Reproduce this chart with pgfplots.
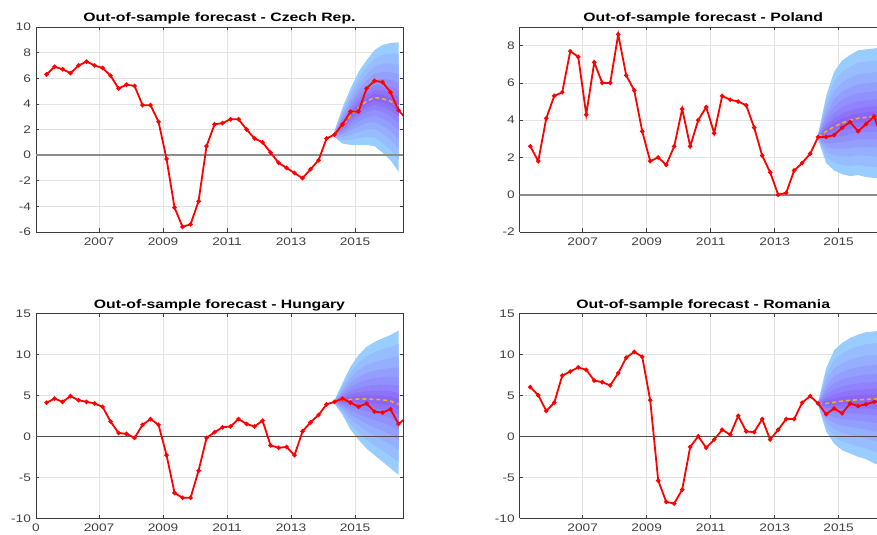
\documentclass[border=0pt]{standalone}
\usepackage{fontspec}
\setmainfont[FakeStretch=1.25]{Liberation Sans}
\newfontfamily\titlefont[FakeStretch=1.30]{Liberation Sans}
\usepackage{pgfplots}
\pgfplotsset{compat=1.18}
\usepackage{pgfplotstable}
\usepgfplotslibrary{fillbetween}

% fan chart shades, outer band (1) to inner band (8)
\definecolor{fan1}{RGB}{153,204,255}
\definecolor{fan2}{RGB}{151,189,254}
\definecolor{fan3}{RGB}{149,174,254}
\definecolor{fan4}{RGB}{147,159,253}
\definecolor{fan5}{RGB}{145,145,253}
\definecolor{fan6}{RGB}{143,130,252}
\definecolor{fan7}{RGB}{141,115,251}
\definecolor{fan8}{RGB}{139,100,250}
\definecolor{medgold}{RGB}{237,177,32}
\definecolor{axgray}{RGB}{60,60,60}
\definecolor{ticktext}{RGB}{64,64,64}

% ---------- observed series (quarterly) ----------
\pgfplotstableread{
t v
2005.36 6.3
2005.61 6.9
2005.86 6.7
2006.11 6.4
2006.36 7.0
2006.61 7.3
2006.86 7.0
2007.11 6.8
2007.36 6.2
2007.61 5.2
2007.86 5.5
2008.11 5.4
2008.36 3.9
2008.61 3.9
2008.86 2.6
2009.11 -0.3
2009.36 -4.1
2009.61 -5.6
2009.86 -5.4
2010.11 -3.6
2010.36 0.7
2010.61 2.4
2010.86 2.5
2011.11 2.8
2011.36 2.8
2011.61 2.0
2011.86 1.3
2012.11 1.0
2012.36 0.2
2012.61 -0.6
2012.86 -1.0
2013.11 -1.4
2013.36 -1.8
2013.61 -1.1
2013.86 -0.4
2014.11 1.3
2014.36 1.6
2014.61 2.4
2014.86 3.4
2015.11 3.4
2015.36 5.2
2015.61 5.8
2015.86 5.7
2016.11 4.9
2016.36 3.5
2016.61 2.8
}\czdata

\pgfplotstableread{
t v
2005.36 2.6
2005.61 1.8
2005.86 4.1
2006.11 5.3
2006.36 5.5
2006.61 7.7
2006.86 7.4
2007.11 4.3
2007.36 7.1
2007.61 6.0
2007.86 6.0
2008.11 8.6
2008.36 6.4
2008.61 5.6
2008.86 3.4
2009.11 1.8
2009.36 2.0
2009.61 1.6
2009.86 2.6
2010.11 4.6
2010.36 2.6
2010.61 4.0
2010.86 4.7
2011.11 3.3
2011.36 5.3
2011.61 5.1
2011.86 5.0
2012.11 4.8
2012.36 3.6
2012.61 2.1
2012.86 1.2
2013.11 0.0
2013.36 0.1
2013.61 1.3
2013.86 1.7
2014.11 2.2
2014.36 3.1
2014.61 3.1
2014.86 3.2
2015.11 3.6
2015.36 3.9
2015.61 3.4
2015.86 3.8
2016.11 4.2
2016.36 3.0
2016.61 3.0
}\pldata

\pgfplotstableread{
t v
2005.36 4.1
2005.61 4.6
2005.86 4.2
2006.11 4.9
2006.36 4.4
2006.61 4.2
2006.86 4.0
2007.11 3.6
2007.36 1.8
2007.61 0.4
2007.86 0.3
2008.11 -0.2
2008.36 1.4
2008.61 2.1
2008.86 1.4
2009.11 -2.3
2009.36 -6.9
2009.61 -7.5
2009.86 -7.5
2010.11 -4.2
2010.36 -0.2
2010.61 0.5
2010.86 1.1
2011.11 1.2
2011.36 2.1
2011.61 1.5
2011.86 1.2
2012.11 1.9
2012.36 -1.1
2012.61 -1.4
2012.86 -1.3
2013.11 -2.3
2013.36 0.6
2013.61 1.7
2013.86 2.6
2014.11 3.9
2014.36 4.2
2014.61 4.6
2014.86 4.1
2015.11 3.6
2015.36 4.0
2015.61 3.0
2015.86 2.9
2016.11 3.3
2016.36 1.5
2016.61 2.3
}\hudata

\pgfplotstableread{
t v
2005.36 6.0
2005.61 5.0
2005.86 3.1
2006.11 4.1
2006.36 7.4
2006.61 7.9
2006.86 8.4
2007.11 8.1
2007.36 6.8
2007.61 6.6
2007.86 6.2
2008.11 7.7
2008.36 9.6
2008.61 10.3
2008.86 9.7
2009.11 4.4
2009.36 -5.4
2009.61 -8.0
2009.86 -8.2
2010.11 -6.5
2010.36 -1.3
2010.61 0.0
2010.86 -1.4
2011.11 -0.4
2011.36 0.8
2011.61 0.2
2011.86 2.5
2012.11 0.6
2012.36 0.5
2012.61 2.1
2012.86 -0.4
2013.11 0.8
2013.36 2.1
2013.61 2.1
2013.86 4.1
2014.11 4.9
2014.36 4.0
2014.61 2.7
2014.86 3.4
2015.11 2.8
2015.36 4.0
2015.61 3.7
2015.86 3.9
2016.11 4.2
2016.36 4.4
2016.61 4.5
}\rodata

% ---------- forecast fans: band bounds u1/l1 (outer) ... u8/l8 (inner), median m ----------
\pgfplotstableread{
t       u1    l1    u2    l2    u3    l3    u4    l4    u5    l5    u6    l6    u7    l7    u8    l8    m
2014.36 1.90  1.40  1.85  1.44  1.80  1.47  1.75  1.50  1.71  1.53  1.68  1.55  1.65  1.57  1.62  1.59  1.6
2014.61 3.70  0.90  3.45  1.15  3.21  1.39  3.00  1.60  2.82  1.78  2.65  1.95  2.51  2.09  2.40  2.20  2.3
2014.86 5.20  0.80  4.82  1.21  4.47  1.61  4.15  1.95  3.88  2.25  3.63  2.53  3.42  2.76  3.25  2.94  3.1
2015.11 6.50  0.80  6.00  1.32  5.52  1.82  5.10  2.25  4.74  2.63  4.40  2.98  4.12  3.27  3.90  3.50  3.7
2015.36 7.40  0.80  6.82  1.41  6.28  1.99  5.80  2.50  5.38  2.94  5.00  3.35  4.68  3.69  4.42  3.96  4.2
2015.61 8.20  0.70  7.53  1.38  6.91  2.03  6.35  2.60  5.87  3.09  5.43  3.55  5.06  3.93  4.76  4.23  4.5
2015.86 8.60  0.20  7.84  0.96  7.13  1.67  6.50  2.30  5.95  2.85  5.45  3.35  5.03  3.77  4.69  4.11  4.4
2016.11 8.75 -0.40  7.93  0.43  7.16  1.21  6.48  1.90  5.88  2.50  5.34  3.05  4.88  3.51  4.52  3.88  4.2
2016.36 8.80 -1.30  7.90 -0.38  7.05  0.49  6.30  1.25  5.65  1.91  5.05  2.53  4.55  3.04  4.15  3.44  3.8
}\czfan

\pgfplotstableread{
t       u1    l1    u2    l2    u3    l3    u4    l4    u5    l5    u6    l6    u7    l7    u8    l8    m
2014.36 3.25  2.95  3.22  2.98  3.20  3.00  3.18  3.03  3.16  3.04  3.14  3.06  3.12  3.08  3.11  3.09  3.1
2014.61 5.30  1.70  4.96  2.01  4.64  2.30  4.35  2.55  4.10  2.77  3.88  2.98  3.69  3.15  3.53  3.28  3.4
2014.86 6.60  1.30  6.07  1.72  5.57  2.12  5.13  2.48  4.74  2.78  4.39  3.06  4.09  3.30  3.86  3.49  3.65
2015.11 7.20  1.10  6.60  1.60  6.03  2.06  5.53  2.48  5.09  2.83  4.69  3.16  4.35  3.44  4.09  3.66  3.85
2015.36 7.50  1.00  6.87  1.54  6.28  2.05  5.75  2.50  5.30  2.89  4.88  3.25  4.53  3.55  4.25  3.79  4.0
2015.61 7.75  1.05  7.09  1.60  6.47  2.12  5.93  2.58  5.45  2.97  5.01  3.34  4.65  3.64  4.36  3.89  4.1
2015.86 7.80  0.95  7.14  1.53  6.52  2.07  5.98  2.55  5.50  2.97  5.06  3.35  4.70  3.67  4.41  3.93  4.15
2016.11 7.85  0.90  7.19  1.49  6.57  2.06  6.03  2.55  5.55  2.98  5.11  3.38  4.75  3.71  4.46  3.97  4.2
2016.36 7.90  0.85  7.23  1.45  6.61  2.02  6.05  2.53  5.57  2.96  5.13  3.36  4.76  3.70  4.46  3.97  4.2
}\plfan

\pgfplotstableread{
t       u1    l1    u2    l2    u3    l3    u4    l4    u5    l5    u6    l6    u7    l7    u8    l8    m
2014.36 4.40  4.00  4.36  4.04  4.33  4.07  4.30  4.10  4.27  4.13  4.25  4.15  4.23  4.17  4.21  4.19  4.2
2014.61 6.50  2.60  6.12  2.92  5.77  3.23  5.45  3.50  5.18  3.73  4.93  3.95  4.72  4.13  4.55  4.27  4.4
2014.86 8.50  0.80  7.78  1.47  7.10  2.10  6.50  2.65  5.98  3.13  5.50  3.58  5.10  3.95  4.78  4.24  4.5
2015.11 9.90 -0.40  8.94  0.49  8.03  1.33  7.23  2.08  6.53  2.72  5.89  3.31  5.35  3.81  4.93  4.20  4.55
2015.36 10.90 -1.50 9.76 -0.41  8.68  0.62  7.73  1.53  6.90  2.31  6.14  3.04  5.50  3.64  5.00  4.13  4.55
2015.61 11.50 -2.30 10.24 -1.08 9.05  0.08  8.00  1.10  7.09  1.98  6.25  2.80  5.55  3.48  4.99  4.02  4.5
2015.86 11.95 -3.10 10.60 -1.74 9.33 -0.46  8.20  0.68  7.23  1.66  6.33  2.56  5.58  3.32  4.98  3.92  4.45
2016.11 12.35 -3.90 10.90 -2.42 9.53 -1.03  8.33  0.20  7.28  1.27  6.31  2.25  5.51  3.07  4.86  3.73  4.3
2016.36 12.90 -4.70 11.28 -3.15 9.75 -1.69  8.40 -0.40  7.23  0.72  6.15  1.75  5.25  2.61  4.53  3.30  3.9
}\hufan

\pgfplotstableread{
t       u1    l1    u2    l2    u3    l3    u4    l4    u5    l5    u6    l6    u7    l7    u8    l8    m
2014.36 4.20  3.80  4.16  3.84  4.13  3.87  4.10  3.90  4.07  3.93  4.05  3.95  4.03  3.97  4.01  3.99  4.0
2014.61 8.30  0.60  7.53  1.21  6.80  1.79  6.15  2.30  5.59  2.74  5.08  3.15  4.65  3.49  4.30  3.76  4.0
2014.86 10.50 -0.90 9.36  0.01  8.28  0.87  7.33  1.63  6.50  2.28  5.74  2.89  5.10  3.39  4.60  3.80  4.15
2015.11 11.40 -1.70 10.12 -0.62 8.92  0.40  7.85  1.30  6.93  2.08  6.08  2.80  5.37  3.40  4.80  3.88  4.3
2015.36 12.00 -2.10 10.63 -0.93 9.34  0.18  8.20  1.15  7.21  2.00  6.30  2.78  5.54  3.43  4.93  3.95  4.4
2015.61 12.40 -2.50 10.97 -1.25 9.62 -0.07  8.43  0.98  7.39  1.88  6.44  2.71  5.64  3.41  5.01  3.96  4.45
2015.86 12.70 -2.80 11.22 -1.49 9.83 -0.25  8.60  0.85  7.53  1.80  6.55  2.68  5.73  3.41  5.07  3.99  4.5
2016.11 12.80 -3.30 11.32 -1.89 9.91 -0.55  8.68  0.63  7.60  1.65  6.61  2.59  5.79  3.37  5.13  4.00  4.55
2016.36 12.90 -3.60 11.41 -2.12 10.00 -0.73 8.75  0.50  7.67  1.57  6.68  2.55  5.85  3.37  5.18  4.03  4.6
}\rofan

% one band of a fan: #1 table, #2 band index (also picks colour fan#2)
\newcommand{\fanband}[2]{%
  \addplot[draw=none, forget plot, name path=up#2] table[x=t, y=u#2] {#1};
  \addplot[draw=none, forget plot, name path=lo#2] table[x=t, y=l#2] {#1};
  \addplot[fill=fan#2, draw=none, forget plot] fill between[of=up#2 and lo#2];
}
% nested bands, outer first
\newcommand{\drawfan}[1]{%
  \fanband{#1}{1}\fanband{#1}{2}\fanband{#1}{3}\fanband{#1}{4}%
  \fanband{#1}{5}\fanband{#1}{6}\fanband{#1}{7}\fanband{#1}{8}%
}

\pgfplotsset{
  panel/.style={
    anchor=south west,
    scale only axis, width=367bp, height=205bp,
    xmin=2005.03, xmax=2016.5,
    xtick={2007,2009,2011,2013,2015},
    xticklabels={2007,2009,2011,2013,2015},
    grid=major,
    major grid style={draw=black!11, line width=0.6bp},
    axis line style={draw=axgray, line width=0.6bp},
    tick style={draw=axgray, line width=0.5bp},
    tick align=inside, major tick length=3.5bp,
    ticklabel style={font=\fontsize{11}{12}\selectfont, text=ticktext},
    xticklabel style={yshift=-2.5bp},
    yticklabel style={xshift=-1.5bp},
    title style={font=\titlefont\bfseries\fontsize{12.2}{14}\selectfont,
      at={(0.5,1)}, anchor=base, inner sep=0pt},
  },
  % right-hand panels run off the edge of the page
  cutpanel/.style={
    panel, width=357.3bp, xmax=2016.2, axis y line*=left,
    title style={at={(0.5136,1)}},
  },
  obs/.style={red, line width=1.8bp, mark=*, mark size=1.2bp},
  med/.style={medgold, line width=1.6bp, dash pattern=on 4bp off 3bp},
}

\begin{document}
\begin{tikzpicture}

% Czech Republic
\begin{axis}[panel, at={(36bp,303bp)},
  title={Out-of-sample forecast - Czech Rep.},
  ymin=-6, ymax=10, ytick={-6,-4,...,10},
  yticklabels={-6,-4,-2,0,2,4,6,8,10}]
  \addplot[black!45, line width=1.6bp, forget plot] coordinates {(2004,0) (2017,0)};
  \drawfan{\czfan}
  \addplot[med] table[x=t, y=m] {\czfan};
  \addplot[obs] table[x=t, y=v] {\czdata};
\end{axis}

% Poland
\begin{axis}[cutpanel, at={(519.7bp,303bp)},
  title={Out-of-sample forecast - Poland},
  ymin=-2, ymax=9, ytick={-2,0,...,8},
  yticklabels={-2,0,2,4,6,8}]
  \addplot[black!45, line width=1.6bp, forget plot] coordinates {(2004,0) (2017,0)};
  \drawfan{\plfan}
  \addplot[med] table[x=t, y=m] {\plfan};
  \addplot[obs] table[x=t, y=v] {\pldata};
\end{axis}

% Hungary
\begin{axis}[panel, at={(36bp,16.7bp)},
  title={Out-of-sample forecast - Hungary},
  title style={yshift=-1bp},
  ymin=-10, ymax=15, ytick={-10,-5,...,15},
  yticklabels={-10,-5,0,5,10,15},
  extra x ticks={2005.03}, extra x tick labels={0},
  extra x tick style={grid=none, major tick length=0pt}]
  \addplot[black!70, line width=0.9bp, forget plot] coordinates {(2004,0) (2017,0)};
  \drawfan{\hufan}
  \addplot[med] table[x=t, y=m] {\hufan};
  \addplot[obs] table[x=t, y=v] {\hudata};
\end{axis}

% Romania
\begin{axis}[cutpanel, at={(519.7bp,16.7bp)},
  title={Out-of-sample forecast - Romania},
  title style={yshift=-1bp},
  ymin=-10, ymax=15, ytick={-10,-5,...,15},
  yticklabels={-10,-5,0,5,10,15}]
  \addplot[black!70, line width=0.9bp, forget plot] coordinates {(2004,0) (2017,0)};
  \drawfan{\rofan}
  \addplot[med] table[x=t, y=m] {\rofan};
  \addplot[obs] table[x=t, y=v] {\rodata};
\end{axis}

\pgfresetboundingbox
\path[use as bounding box] (0,0) rectangle (877bp,535bp);
\end{tikzpicture}
\end{document}
